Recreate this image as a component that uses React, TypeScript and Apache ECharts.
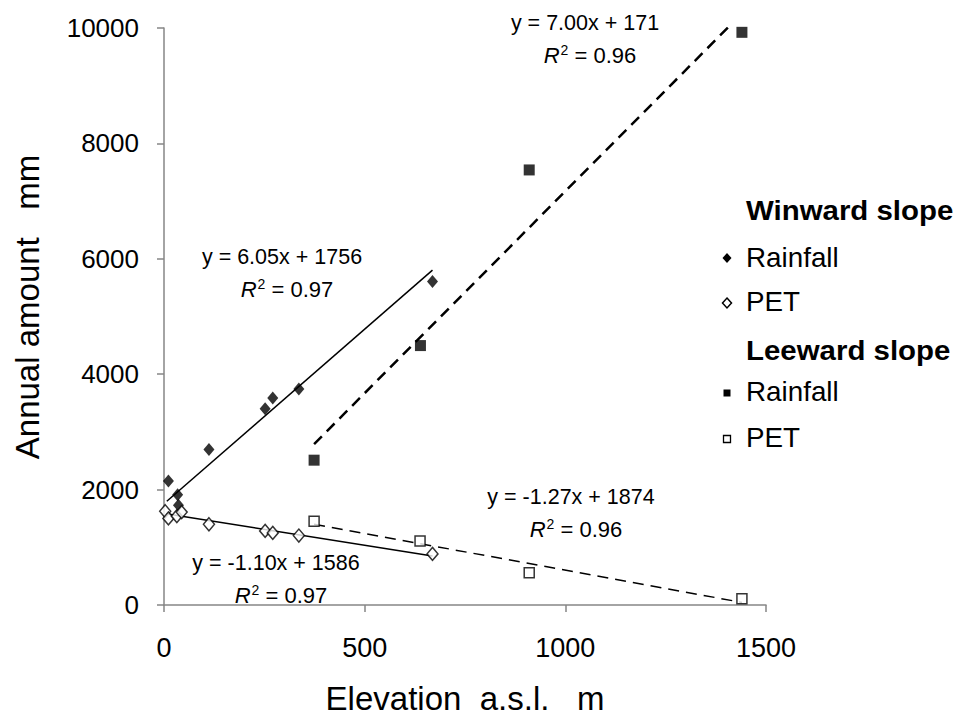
import React, { useEffect, useRef } from "react";
import * as echarts from "echarts";

// ---- data ----
const winRainX = [11, 34, 36, 112, 252, 271, 336, 669];
const winRainY = [2147, 1912, 1730, 2694, 3402, 3587, 3743, 5608];
const winPetX = [3, 11, 32, 44, 112, 252, 271, 336, 669];
const winPetY = [1625, 1500, 1540, 1610, 1399, 1284, 1249, 1204, 886];
const leeRainX = [374, 639, 910, 1440];
const leeRainY = [2510, 4496, 7540, 9925];
const leePetX = [374, 638, 910, 1440];
const leePetY = [1451, 1111, 558, 109];

// fitted trend lines shown on the chart: [slope, intercept, xFrom, xTo]
const winRainFit = [6.05, 1756, 7, 669];
const winPetFit = [-1.1, 1586, 5, 669];
const leeRainFit = [7.0, 171, 374, 1440];
const leePetFit = [-1.27, 1874, 374, 1440];

const xTicks = [0, 500, 1000, 1500];
const yTicks = [0, 2000, 4000, 6000, 8000, 10000];

const FONT = "'Liberation Sans', Arial, sans-serif";

const zip = (xs: number[], ys: number[]) => xs.map((x, i) => [x, ys[i]]);
const fitLine = (f: number[]) => [
  [f[2], f[0] * f[2] + f[1]],
  [f[3], f[0] * f[3] + f[1]],
];

export default function App() {
  const ref = useRef<HTMLDivElement>(null);
  useEffect(() => {
    if (!ref.current) return;
    const chart = echarts.init(ref.current, null, { renderer: "svg" });
    const axisCol = "#868686";
    const scatter = (name: string, data: number[][], symbol: string, size: any, filled: boolean) => ({
      type: "scatter",
      name,
      data,
      symbol,
      symbolSize: size,
      z: 5,
      itemStyle: filled
        ? { color: "#000", borderColor: "#000", borderWidth: 0 }
        : { color: "#fff", borderColor: "#000", borderWidth: 1.5 },
    });
    const trend = (data: number[][], dashed: boolean, width: number) => ({
      type: "line",
      data,
      showSymbol: false,
      symbol: "none",
      clip: true,
      z: 3,
      lineStyle: { color: "#000", width, type: dashed ? [11, 7] : "solid" },
    });
    const annot = (x: number, y: number, eq: string, r2: string) => [
      {
        type: "text",
        x,
        y,
        style: { text: eq, font: `21.5px ${FONT}`, fill: "#000", align: "center", verticalAlign: "middle" },
      },
      {
        type: "text",
        x: x + 5,
        y: y + 32,
        style: {
          text: `{i|R}{s|2}{n| = ${r2}}`,
          align: "center",
          verticalAlign: "middle",
          rich: {
            i: { font: `italic 22px ${FONT}`, fill: "#000" },
            s: { font: `14px ${FONT}`, fill: "#000", verticalAlign: "top", padding: [0, 0, 10, 1] },
            n: { font: `22px ${FONT}`, fill: "#000" },
          },
        },
      },
    ];
    const legendText = (y: number, text: string, bold: boolean) => ({
      type: "text",
      x: 746,
      y,
      scaleX: bold ? 1.09 : 1.03,
      style: {
        text,
        font: `${bold ? "bold " : ""}27px ${FONT}`,
        fill: "#000",
        align: "left",
        verticalAlign: "middle",
      },
    });
    const diamond = (cx: number, cy: number, filled: boolean) => ({
      type: "polygon",
      shape: { points: [[cx, cy - 5], [cx + 4.5, cy], [cx, cy + 5], [cx - 4.5, cy]] },
      style: { fill: filled ? "#000" : "#fff", stroke: "#000", lineWidth: filled ? 0 : 1.5 },
    });
    const square = (cx: number, cy: number, filled: boolean) => ({
      type: "rect",
      shape: { x: cx - 3.5, y: cy - 3.5, width: 7, height: 7 },
      style: { fill: filled ? "#000" : "#fff", stroke: "#000", lineWidth: filled ? 0 : 1.3 },
    });

    chart.setOption({
      animation: false,
      backgroundColor: "#fff",
      grid: { left: 164, right: 193, top: 28, bottom: 113, containLabel: false },
      xAxis: {
        type: "value",
        min: xTicks[0],
        max: xTicks[xTicks.length - 1],
        interval: 500,
        name: "Elevation  a.s.l.   m",
        nameLocation: "middle",
        nameGap: 77,
        nameTextStyle: { fontFamily: FONT, fontSize: 33, color: "#000" },
        axisLine: { show: true, lineStyle: { color: axisCol, width: 1.5 } },
        axisTick: { show: true, inside: false, length: 7, lineStyle: { color: axisCol, width: 1.5 } },
        axisLabel: { fontFamily: FONT, fontSize: 27, color: "#000", margin: 29, formatter: (v: number) => String(v) },
        splitLine: { show: false },
      },
      yAxis: {
        type: "value",
        min: yTicks[0],
        max: yTicks[yTicks.length - 1],
        interval: 2000,
        axisLine: { show: true, lineStyle: { color: axisCol, width: 1.5 } },
        axisTick: { show: true, inside: false, length: 7, lineStyle: { color: axisCol, width: 1.5 } },
        axisLabel: { fontFamily: FONT, fontSize: 26, color: "#000", margin: 25, formatter: (v: number) => String(v) },
        splitLine: { show: false },
      },
      series: [
        trend(fitLine(winRainFit), false, 1.5),
        trend(fitLine(winPetFit), false, 1.5),
        trend(fitLine(leeRainFit), true, 2.5),
        trend(fitLine(leePetFit), true, 1.5),
        scatter("Winward Rainfall", zip(winRainX, winRainY), "diamond", [11, 13], true),
        scatter("Winward PET", zip(winPetX, winPetY), "diamond", [11, 13], false),
        scatter("Leeward Rainfall", zip(leeRainX, leeRainY), "rect", 11, true),
        scatter("Leeward PET", zip(leePetX, leePetY), "rect", 10, false),
      ],
      graphic: [
        {
          type: "text",
          x: 27,
          y: 307,
          rotation: Math.PI / 2,
          style: {
            text: "Annual amount   mm",
            font: `33px ${FONT}`,
            fill: "#000",
            align: "center",
            verticalAlign: "middle",
          },
        },
        ...annot(585, 23, "y = 7.00x + 171", "0.96"),
        ...annot(282, 257, "y = 6.05x + 1756", "0.97"),
        ...annot(276, 563, "y = -1.10x + 1586", "0.97"),
        ...annot(571, 497, "y = -1.27x + 1874", "0.96"),
        legendText(210, "Winward slope", true),
        diamond(727, 258, true),
        legendText(258, "Rainfall", false),
        diamond(727, 303, false),
        legendText(302, "PET", false),
        legendText(350, "Leeward slope", true),
        square(727, 393, true),
        legendText(392, "Rainfall", false),
        square(727, 439, false),
        legendText(438, "PET", false),
      ],
    });
    return () => chart.dispose();
  }, []);
  return <div ref={ref} style={{ width: 959, height: 720, position: "absolute", left: 0, top: 0 }} />;
}
